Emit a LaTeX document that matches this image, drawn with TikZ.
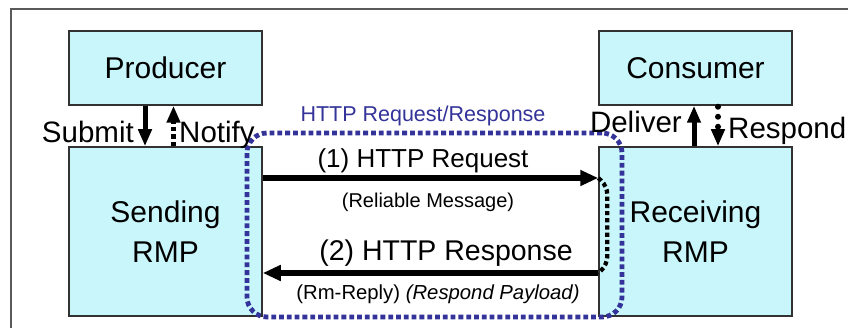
\documentclass[tikz,border=0pt]{standalone}
\usepackage{fontspec}
\setmainfont{Liberation Sans}
\usetikzlibrary{arrows.meta}
\definecolor{boxfill}{RGB}{200,246,250}
\definecolor{boxline}{RGB}{50,50,50}
\definecolor{httpblue}{RGB}{51,51,153}
\definecolor{framegray}{RGB}{90,90,90}
\newcommand{\fs}[1]{\fontsize{#1}{#1}\selectfont}
\tikzset{
  box/.style={draw=boxline, line width=1.5pt, fill=boxfill, minimum width=193pt, minimum height=74pt, inner sep=0pt, align=center, font=\fs{30}},
  bigbox/.style={box, minimum height=169pt, font=\fontsize{30}{40}\selectfont},
  tip/.style={-{Triangle[length=17pt,width=13pt]}},
  solidarr/.style={tip, line width=5pt},
  dasharr/.style={tip, line width=5pt, dash pattern=on 4.5pt off 3pt},
  dotarr/.style={-{Triangle[length=17pt,width=13pt]}, line width=6pt, line cap=round, dash pattern=on 0pt off 10pt},
  msgarr/.style={-{Triangle[length=18pt,width=15pt]}, line width=5.5pt},
  lbl/.style={inner sep=0pt, anchor=base, font=\fs{29.5}},
  blueline/.style={draw=httpblue, line width=4.8pt, dash pattern=on 4.8pt off 3pt, rounded corners=20pt},
}
\begin{document}
\begin{tikzpicture}[x=1pt,y=-1pt]
\useasboundingbox (0,0) rectangle (848,328);
\draw[framegray, line width=2pt] (11,330) -- (11,9) -- (850,9);
% boxes
\node[box] (prod) at (165.5,68) {Producer};
\node[box] (cons) at (695.5,68) {Consumer};
\node[bigbox] (send) at (165.5,231.5) {Sending\\RMP};
\node[bigbox] (recv) at (695.5,231.5) {Receiving\\RMP};
% blue HTTP region
\node[blueline, minimum width=375pt, minimum height=184pt, inner sep=0pt] (http) at (434.5,225) {};
\node[inner sep=0pt, anchor=base, text=httpblue, font=\fs{21.5}] (httplbl) at (423,122) {HTTP Request/Response};
% producer side arrows
\draw[solidarr] ([xshift=-20.5pt]prod.south) -- ([xshift=-20.5pt]send.north);
\draw[dasharr] ([xshift=8pt]send.north) -- ([xshift=8pt]prod.south);
\node[lbl, anchor=base east] (submit) at (134,143) {Submit};
\node[lbl, anchor=base west] (notify) at (179,143) {Notify};
% consumer side arrows
\draw[solidarr] ([xshift=-1.5pt]recv.north) -- ([xshift=-1.5pt]cons.south);
\draw[dotarr] ([xshift=22.5pt,yshift=-1pt]cons.south) -- ([xshift=22.5pt]recv.north);
\node[lbl, anchor=base east] (deliver) at (682,133) {Deliver};
\node[lbl, anchor=base west] (respond) at (728,139) {Respond};
% messages
\draw[msgarr] ([yshift=53.5pt]send.east) -- ([yshift=53.5pt]recv.west);
\draw[msgarr] ([yshift=-41.5pt]recv.west) -- ([yshift=-41.5pt]send.east);
\draw[line width=4.2pt, dash pattern=on 4.2pt off 3pt, rounded corners=8pt]
  ([yshift=53.5pt]recv.west) -- ++(9,8) -- ++(0,79) -- ++(-9,8);
\node[inner sep=0pt, anchor=base, font=\fs{26}] (req) at (423,168) {(1) HTTP Request};
\node[inner sep=0pt, anchor=base, font=\fs{20}] (rel) at (428,208) {(Reliable Message)};
\node[inner sep=0pt, anchor=base, font=\fs{28.5}] (resp) at (446,261) {(2) HTTP Response};
\node[inner sep=0pt, anchor=base, font=\fs{20.3}] (rmr) at (438,300) {(Rm-Reply) \textit{(Respond Payload)}};
\end{tikzpicture}
\end{document}
